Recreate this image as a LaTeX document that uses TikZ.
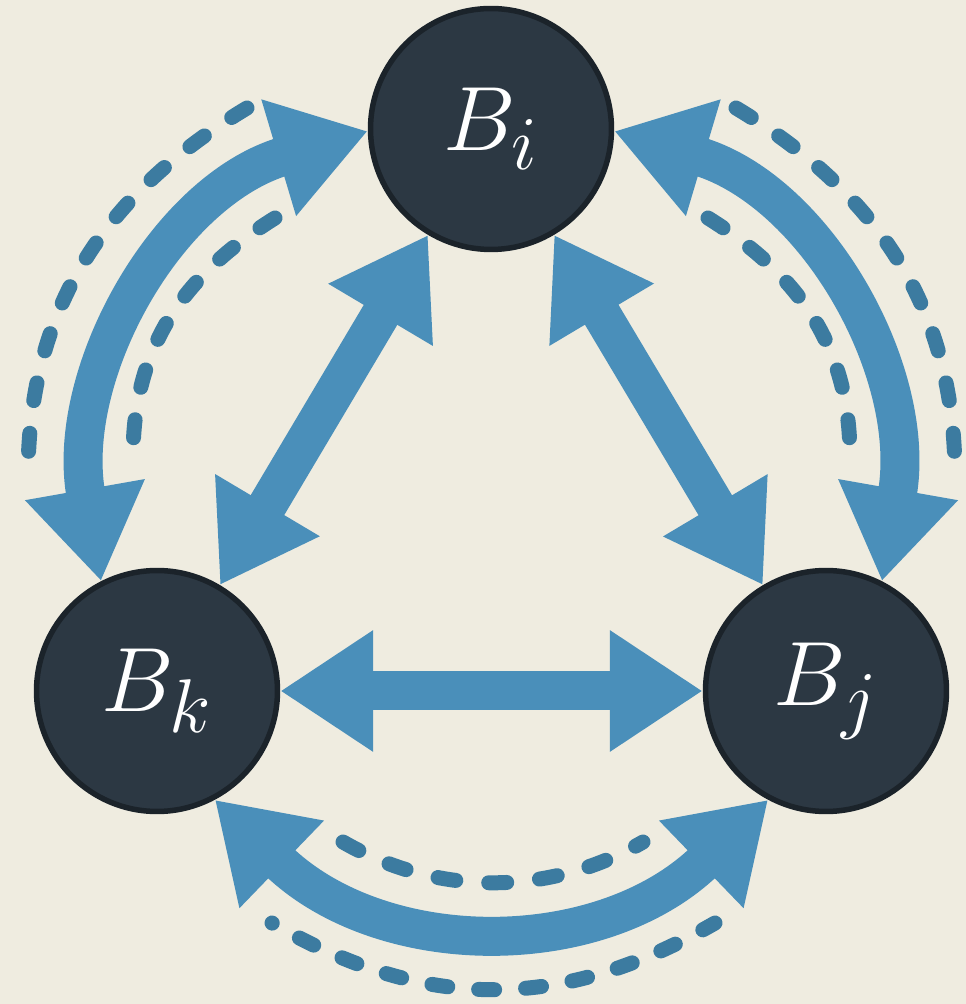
\documentclass[tikz,border=0pt]{standalone}
\usepackage{graphicx}
\usetikzlibrary{arrows.meta}

\definecolor{paper}{HTML}{EFECE0}
\definecolor{flow}{HTML}{4A8FBA}
\definecolor{trace}{HTML}{3C7BA0}
\definecolor{bnode}{HTML}{2C3843}
\definecolor{brim}{HTML}{1B232A}

% block label: math symbol enlarged beyond the largest fixed size
\newcommand\blocksym[1]{\scalebox{2.09}{$#1$}}

\begin{document}
\begin{tikzpicture}[x=0.02cm,y=0.02cm,
  block/.style={circle, fill=bnode, draw=brim, line width=0.11cm,
    minimum size=4.82cm, inner sep=0pt, text=white, font=\Huge},
  bigtip/.tip={Triangle[length=1.86cm,width=2.3cm]},
  flowline/.style={draw=flow, line width=0.78cm, {bigtip}-{bigtip}},
  tracebase/.style={draw=trace, line width=0.3cm, line cap=round},
  traceline/.style={tracebase, dash pattern=on 0.36cm off 0.66cm},
  dotends/.style={tracebase, dash pattern=on 0.32cm off 0.62cm,
    dash phase=0.315cm},
]
% canvas
\fill[paper] (0,0) rectangle (966,1004);
\useasboundingbox (0,0) rectangle (966,1004);

% the three blocks
\node[block] (bi) at (491,875) {\blocksym{B_i}};
\node[block] (bk) at (157,313) {\blocksym{B_k}};
\node[block] (bj) at (826,313) {\blocksym{B_j}};

% end points of the dashed companion traces
\coordinate (lo1) at (28,527);  \coordinate (lo2) at (247,896);
\coordinate (li1) at (133,547); \coordinate (li2) at (275,786);
\coordinate (ro1) at (955,527); \coordinate (ro2) at (736,896);
\coordinate (ri1) at (850,547); \coordinate (ri2) at (708,786);
\coordinate (bi1) at (343,162); \coordinate (bi2) at (643,162);
\coordinate (bo1) at (272,81);  \coordinate (bo2) at (715,81);

% dashed traces, each started from its upper end
\draw[traceline] (lo2) to[out=211,in=90,looseness=1.0] (lo1);
\draw[traceline] (li2) to[out=212,in=90,looseness=1.0] (li1);
\draw[traceline] (ro2) to[out=-31,in=90,looseness=1.0] (ro1);
\draw[traceline] (ri2) to[out=-32,in=90,looseness=1.0] (ri1);
\draw[traceline] (bi1) to[out=-30,in=210,looseness=0.93] (bi2);
\draw[dotends] (bo1) to[out=-30,in=210,looseness=1.03] (bo2);

% direct exchanges
\draw[flowline] (bk) -- (bj);
\draw[flowline] (bi) -- (bk);
\draw[flowline] (bi) -- (bj);

% outer exchanges
\draw[flowline] (bk.117) to[out=100,in=196.6,looseness=1.03] (bi.181);
\draw[flowline] (bj.63) to[out=80,in=-16.6,looseness=1.03] (bi.-1);
\draw[flowline] (bk.-62) to[out=-44,in=224,looseness=1.08] (bj.242.6);
\end{tikzpicture}
\end{document}
